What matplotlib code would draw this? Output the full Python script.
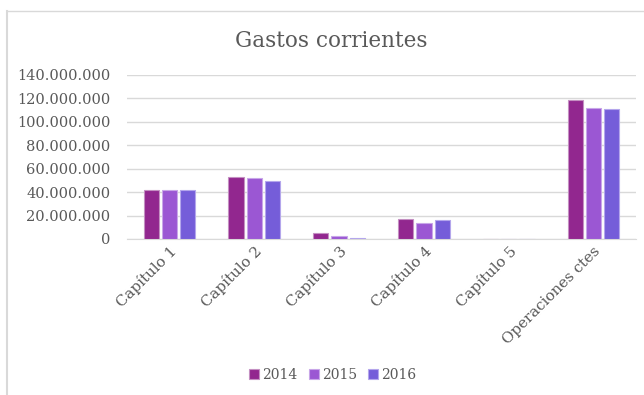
import matplotlib.pyplot as plt
import numpy as np
from matplotlib.lines import Line2D
from matplotlib.ticker import FuncFormatter

categories = ["Capítulo 1", "Capítulo 2", "Capítulo 3", "Capítulo 4", "Capítulo 5", "Operaciones ctes"]
years = ["2014", "2015", "2016"]
v2014 = [42.0e6, 53.1e6, 4.8e6, 17.0e6, 0, 119.0e6]
v2015 = [42.0e6, 52.0e6, 2.8e6, 13.3e6, 0, 111.6e6]
v2016 = [42.0e6, 49.7e6, 1.1e6, 16.4e6, 0, 110.8e6]
colors = ["#92278F", "#9B57D3", "#755DD9"]
edges = ["#C490C2", "#C8A6E8", "#B4A6EC"]

plt.rcParams['font.family'] = ['DejaVu Serif']
txt = "#595959"

fig = plt.figure(figsize=(6.44, 3.95), dpi=100)
ax = fig.add_axes([127/644, 156/395, 509/644, 164/395])

x = np.arange(len(categories))
w = 0.18
gap = 0.035
for i, vals in enumerate([v2014, v2015, v2016]):
    off = (i - 1) * (w + gap)
    ax.bar(x + off, vals, w, color=colors[i], edgecolor=edges[i], linewidth=0.8,
           label=years[i], zorder=3)

ax.set_xlim(-0.5, len(categories) - 0.5)
ax.set_ylim(0, 140e6)
ax.set_yticks(np.arange(0, 140e6 + 1, 20e6))
ax.yaxis.set_major_formatter(FuncFormatter(lambda v, p: f"{int(v):,}".replace(",", ".")))
ax.grid(axis='y', color="#D9D9D9", linewidth=1, zorder=0)
for s in ["top", "right", "left"]:
    ax.spines[s].set_visible(False)
ax.spines["bottom"].set_color("#D9D9D9")
ax.tick_params(axis='both', length=0, colors=txt, labelsize=10.5)
ax.tick_params(axis='y', pad=12)
ax.set_xticks(x)
ax.set_xticklabels(categories, rotation=45, ha='right', rotation_mode='anchor')
for t in ax.get_xticklabels():
    t.set_fontsize(10.8)

fig.text(0.515, 0.895, "Gastos corrientes", ha='center', va='center', fontsize=15.5, color=txt)

leg = fig.legend(loc='center', bbox_to_anchor=(333/644, 1 - 375/395), ncol=3, frameon=False,
                 handlelength=0.7, handleheight=0.7, handletextpad=0.25, columnspacing=0.8,
                 fontsize=10)
for t in leg.get_texts():
    t.set_color(txt)

fig.add_artist(Line2D([7/644, 7/644], [0, 1 - 11/395], transform=fig.transFigure, color="#D9D9D9", linewidth=1.5))
fig.add_artist(Line2D([7/644, 1], [1 - 11/395, 1 - 11/395], transform=fig.transFigure, color="#D9D9D9", linewidth=1))

fig.savefig("out.png", dpi=100)
